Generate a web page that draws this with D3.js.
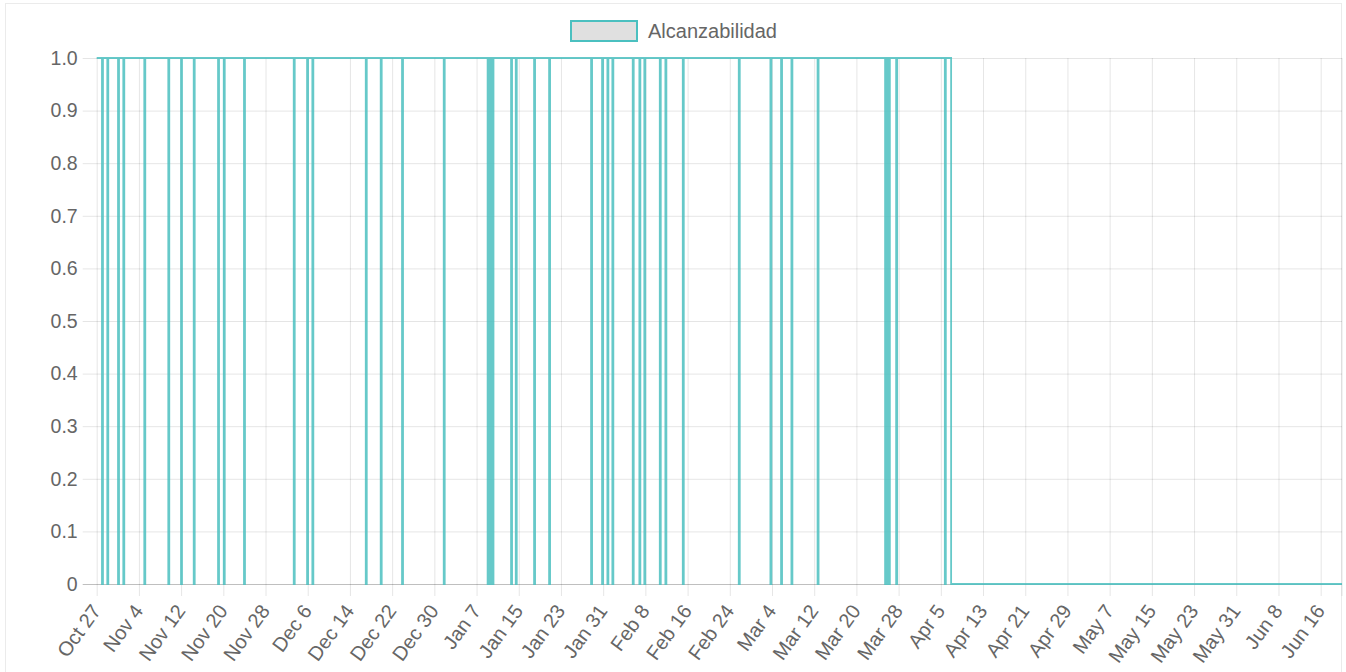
<!DOCTYPE html>
<html>
<head>
<meta charset="utf-8">
<script src="https://cdn.jsdelivr.net/npm/d3@7"></script>
<style>
  body { margin: 0; background: #fff; }
  #card { position: absolute; left: 5px; top: 3px; width: 1337px; height: 690px; border: 1px solid #ebebeb; box-sizing: border-box; }
  svg { position: absolute; left: 0; top: 0; }
  text { font-family: "Liberation Sans", Arial, sans-serif; fill: #666; }
</style>
</head>
<body>
<div id="card"></div>
<svg id="chart" width="1346" height="672"></svg>
<script>
// series range (first and last sample)
const seriesStart = "2018-10-27T00:00";
const seriesEnd = "2019-06-20T01:00";

// moments where reachability dropped to 0 and how long (minutes) it stayed down
const outageStart = [
  "2018-10-28T00:00", "2018-10-29T00:10", "2018-10-31T01:00", "2018-11-01T01:00",
  "2018-11-05T00:30", "2018-11-09T13:40", "2018-11-11T23:30", "2018-11-14T09:20",
  "2018-11-19T00:00", "2018-11-20T02:00", "2018-11-23T22:00", "2018-12-03T08:20",
  "2018-12-05T21:00", "2018-12-06T21:00", "2018-12-17T00:00", "2018-12-19T20:00",
  "2018-12-23T21:00", "2018-12-31T18:40", "2019-01-09T02:20", "2019-01-09T09:00",
  "2019-01-09T16:00", "2019-01-09T22:00", "2019-01-10T01:40", "2019-01-13T13:00",
  "2019-01-14T10:20", "2019-01-17T21:40", "2019-01-20T18:00", "2019-01-28T17:00",
  "2019-01-30T19:00", "2019-01-31T19:10", "2019-02-01T17:45", "2019-02-05T14:25",
  "2019-02-06T20:40", "2019-02-07T19:10", "2019-02-10T17:30", "2019-02-11T19:00",
  "2019-02-15T02:10", "2019-02-25T16:50", "2019-03-03T16:50", "2019-03-05T17:15",
  "2019-03-07T16:20", "2019-03-12T15:20", "2019-03-25T10:30", "2019-03-25T17:00",
  "2019-03-25T23:00", "2019-03-26T04:50", "2019-03-27T12:45", "2019-04-05T18:15"
];
const outageMinutes = [
  270, 270, 270, 270, 270, 270, 270, 270, 270, 270, 270, 270,
  270, 270, 270, 270, 270, 270, 200, 200, 200, 200, 200, 270,
  270, 270, 270, 270, 270, 270, 270, 270, 270, 270, 270, 270,
  270, 270, 270, 270, 270, 270, 200, 200, 200, 200, 270, 270
];
// from here on the host never came back
const lastDown = "2019-04-06T22:50";

const tickDates = [
  "2018-10-27", "2018-11-04", "2018-11-12", "2018-11-20", "2018-11-28", "2018-12-06",
  "2018-12-14", "2018-12-22", "2018-12-30", "2019-01-07", "2019-01-15", "2019-01-23",
  "2019-01-31", "2019-02-08", "2019-02-16", "2019-02-24", "2019-03-04", "2019-03-12",
  "2019-03-20", "2019-03-28", "2019-04-05", "2019-04-13", "2019-04-21", "2019-04-29",
  "2019-05-07", "2019-05-15", "2019-05-23", "2019-05-31", "2019-06-08", "2019-06-16"
];
const yTicks = [0, 0.1, 0.2, 0.3, 0.4, 0.5, 0.6, 0.7, 0.8, 0.9, 1.0];

const parse = d3.isoParse;
const teal = "rgb(75,192,192)";

// build the stepped series
let points = [{t: parse(seriesStart), v: 1}];
outageStart.forEach((s, i) => {
  const t0 = parse(s);
  points.push({t: t0, v: 0});
  points.push({t: new Date(+t0 + outageMinutes[i] * 60000), v: 1});
});
points.push({t: parse(lastDown), v: 0});
points.push({t: parse(seriesEnd), v: 0});

let margin = {top: 58, left: 96.7, right: 4, bottom: 88};
let width = 1346 - margin.left - margin.right,
    height = 672 - margin.top - margin.bottom;

const svg = d3.select("#chart");
const g = svg.append("g").attr("transform", `translate(${margin.left},${margin.top})`);

const x = d3.scaleTime()
  .domain([parse(seriesStart), parse(seriesEnd)])
  .range([0, width]);
const y = d3.scaleLinear()
  .domain([0, 1])
  .range([height, 0]);

// horizontal grid + y labels
g.append("g")
  .call(d3.axisLeft(y).tickValues(yTicks).tickSize(-width - 14).tickPadding(6)
    .tickFormat(d => d === 0 ? "0" : d3.format(".1f")(d)))
  .attr("transform", "translate(-14,0)")
  .call(a => a.select(".domain").remove())
  .call(a => a.selectAll(".tick line")
    .attr("stroke", d => d === 0 ? "rgba(0,0,0,0.25)" : "rgba(0,0,0,0.1)"))
  .call(a => a.selectAll(".tick text")
    .attr("x", -5).style("font-size", "19.5px").attr("fill", "#666")
    .style("font-family", "Liberation Sans, Arial, sans-serif"));

// vertical grid + x labels
const xAxis = g.append("g")
  .attr("transform", `translate(0,${height})`)
  .call(d3.axisBottom(x).tickValues(tickDates.map(parse)).tickSize(12)
    .tickFormat(d3.timeFormat("%b %-d")))
  .call(a => a.select(".domain").remove());
xAxis.selectAll(".tick line")
  .attr("y1", -height)
  .attr("stroke", "rgba(0,0,0,0.1)");
xAxis.selectAll(".tick text")
  .attr("y", 0).attr("dy", "0.35em")
  .attr("text-anchor", "end")
  .attr("transform", "translate(-1,23) rotate(-54)")
  .style("font-size", "20px")
  .style("font-family", "Liberation Sans, Arial, sans-serif")
  .attr("fill", "#666");

// right border of the plot
g.append("line")
  .attr("x1", width).attr("x2", width)
  .attr("y1", 0).attr("y2", height + 12)
  .attr("stroke", "rgba(0,0,0,0.1)");

// the line
const line = d3.line()
  .x(d => x(d.t))
  .y(d => y(d.v))
  .curve(d3.curveStepAfter);

g.append("path")
  .datum(points)
  .attr("fill", "none")
  .attr("stroke", teal)
  .attr("stroke-width", 1.8)
  .attr("stroke-opacity", 0.85)
  .attr("d", line);

// legend
const legend = svg.append("g");
legend.append("rect")
  .attr("x", 571).attr("y", 21)
  .attr("width", 66).attr("height", 20)
  .attr("fill", "rgba(0,0,0,0.12)")
  .attr("stroke", teal)
  .attr("stroke-width", 2);
legend.append("text")
  .attr("x", 648).attr("y", 38)
  .style("font-size", "20px")
  .text("Alcanzabilidad");
</script>
</body>
</html>
